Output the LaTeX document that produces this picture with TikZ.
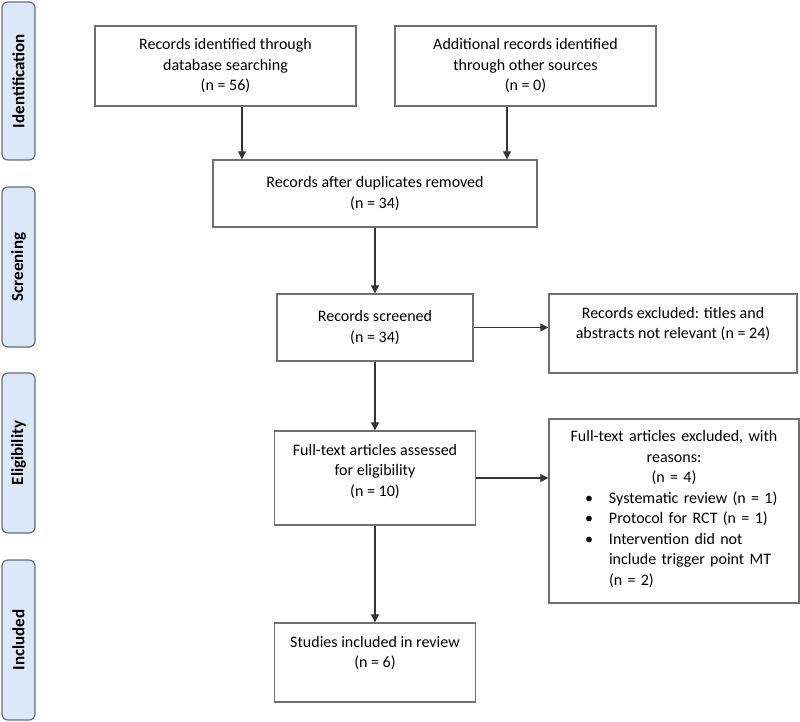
\documentclass[tikz,border=0pt]{standalone}
\usepackage{fontspec}
\setmainfont{Carlito}
\usetikzlibrary{arrows.meta}
\definecolor{tabblue}{RGB}{218,232,247}
\definecolor{tabline}{RGB}{100,110,122}
\definecolor{boxline}{RGB}{112,112,112}
\begin{document}
\begin{tikzpicture}[
  x=1pt, y=1pt,
  font=\fontsize{16}{20.5}\selectfont,
  block/.style={rectangle, draw=boxline, line width=1.4pt, align=center, inner sep=4pt},
  phase/.style={rectangle, rounded corners=6pt, draw=tabline, line width=1.2pt, fill=tabblue,
    rotate=90, minimum height=33pt, font=\fontsize{17}{20}\selectfont\bfseries},
  flow/.style={->, line width=1.2pt, draw=black!80},
  >={Triangle[length=8pt,width=8pt]}
]
\useasboundingbox (0,0) rectangle (800,-721);

% phase tabs
\node[phase, minimum width=158pt] (idtab) at (18.5,-81) {Identification};
\node[phase, minimum width=160pt] (scrtab) at (18.5,-267) {Screening};
\node[phase, minimum width=160pt] (elitab) at (18.5,-453) {Eligibility};
\node[phase, minimum width=160pt] (inctab) at (18.5,-640) {Included};

% boxes
\node[block, minimum width=261pt, minimum height=80pt] (dbsearch) at (225.5,-66) {Records identified through\\database searching\\(n = 56)};
\node[block, minimum width=261pt, minimum height=80pt, right of=dbsearch, node distance=300pt] (othersrc) {Additional records identified\\through other sources\\(n = 0)};
\node[block, minimum width=324pt, minimum height=67pt] (dedup) at (375,-193.5) {Records after duplicates removed\\(n = 34)};
\node[block, minimum width=196pt, minimum height=67pt, below of=dedup, node distance=134pt] (screened) {Records screened\\(n = 34)};
\node[block, minimum width=248pt, minimum height=79pt, text depth=21pt, right of=screened, node distance=298pt, yshift=-6pt] (exclabs) {Records excluded: titles and\\abstracts not relevant (n = 24)};
\node[block, minimum width=201pt, minimum height=94pt, text depth=16pt, below of=screened, node distance=150.5pt] (fulltext) {Full-text articles assessed\\for eligibility\\(n = 10)};
\node[block, minimum width=250pt, minimum height=184pt, text width=242pt, right of=fulltext, node distance=299pt, yshift=-33pt] (exclfull) {Full-text articles excluded, with\\reasons:\\(n = 4)\\
  \begin{tabular}[t]{@{\hspace{32pt}}p{24pt}@{}p{186pt}@{}}
  \textbullet & Systematic review (n = 1)\\
  \textbullet & Protocol for RCT (n = 1)\\
  \textbullet & Intervention did not\\
   & include trigger point MT\\
   & (n = 2)
  \end{tabular}};
\node[block, minimum width=201pt, minimum height=79pt, text depth=21pt, below of=fulltext, node distance=184.5pt] (included) {Studies included in review\\(n = 6)};

% connectors
\draw[flow] ([xshift=16.5pt]dbsearch.south) -- ([xshift=16.5pt]dbsearch.south |- dedup.north);
\draw[flow] ([xshift=-18.5pt]othersrc.south) -- ([xshift=-18.5pt]othersrc.south |- dedup.north);
\draw[flow] (dedup) -- (screened);
\draw[flow] (screened.east) -- (screened.east -| exclabs.west);
\draw[flow] (screened) -- (fulltext);
\draw[flow] (fulltext.east) -- (fulltext.east -| exclfull.west);
\draw[flow] (fulltext) -- (included);
\end{tikzpicture}
\end{document}
